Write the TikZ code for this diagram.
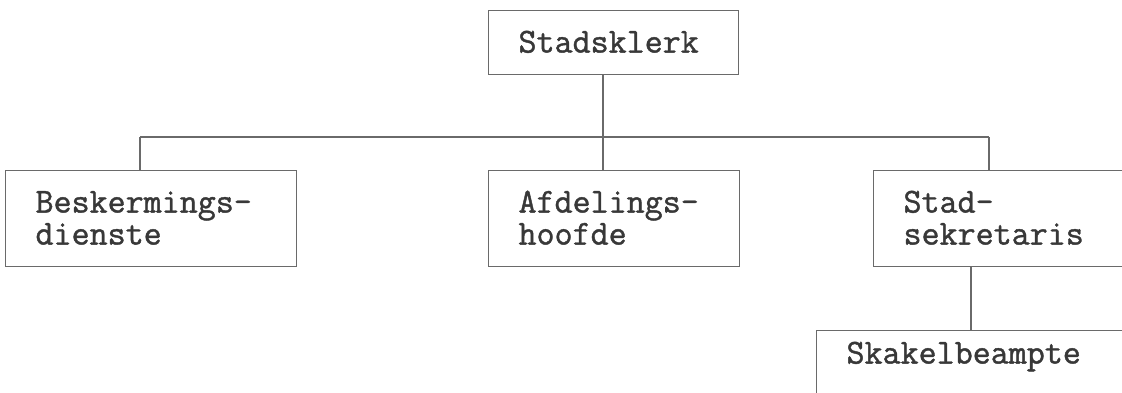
\documentclass[tikz,border=0pt]{standalone}
\usepackage{fontspec}
\newfontfamily\monofnt{Latin Modern Mono}[FakeBold=1.2]
\definecolor{linecol}{HTML}{6A6A6A}
\definecolor{txtcol}{HTML}{383838}
\begin{document}
\begin{tikzpicture}[x=1pt,y=-1pt,
  box/.style={draw=linecol, line width=1.1pt, font=\monofnt\fontsize{35}{32}\selectfont,
    text=txtcol, align=left, inner xsep=30pt, anchor=north west, text height=22pt},
  conn/.style={draw=linecol, line width=1.1pt}]
\useasboundingbox (0,0) rectangle (1122,392);
\clip (0,0) rectangle (1122,392);
\node[box, text width=190pt, inner ysep=20pt, text depth=2pt] (klerk) at (488,10) {Stadsklerk};
\node[box, text width=231pt, inner ysep=20pt, text depth=34pt] (besk) at (5,170) {Beskermings-\\dienste};
\node[box, text width=191pt, inner ysep=20pt, text depth=34pt] (afd) at (488,170) {Afdelings-\\hoofde};
\node[box, text width=207pt, inner ysep=20pt, text depth=34pt] (sek) at (873,170) {Stad-\\sekretaris};
\node[box, text width=264pt, inner ysep=11pt, text depth=40pt] (skak) at (816,330) {Skakelbeampte};
\coordinate (j) at (603,137);
\coordinate (hl) at (140,137);
\coordinate (hr) at (989,137);
\coordinate (s) at (971,300);
\draw[conn] (klerk.south -| j) -- (j);
\draw[conn] (hl) -- (hr);
\draw[conn] (hl) -- (besk.north -| hl);
\draw[conn] (j) -- (afd.north -| j);
\draw[conn] (hr) -- (sek.north -| hr);
\draw[conn] (sek.south -| s) -- (skak.north -| s);
\end{tikzpicture}
\end{document}
